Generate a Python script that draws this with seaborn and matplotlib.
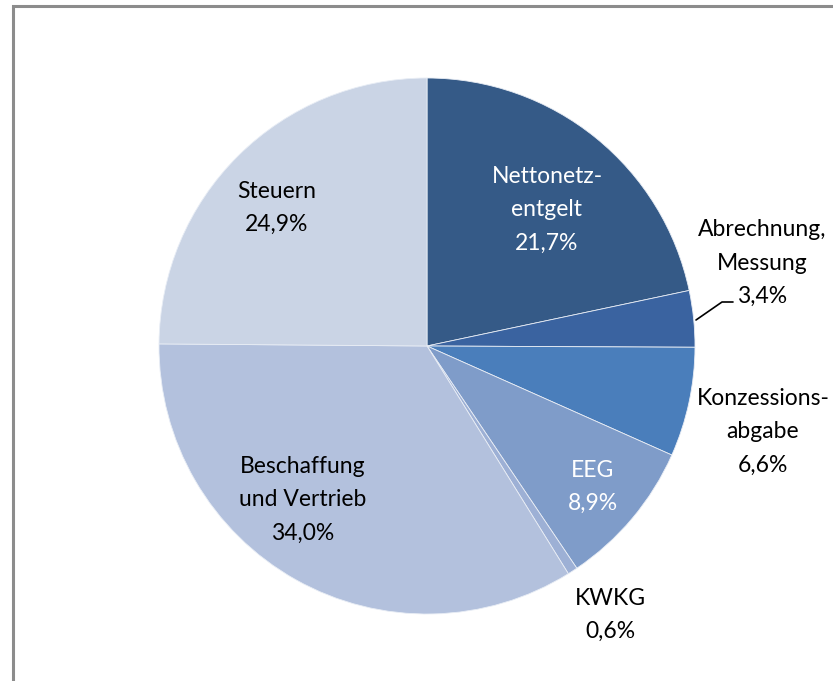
import matplotlib
matplotlib.use("Agg")
import matplotlib.pyplot as plt
import seaborn as sns
from matplotlib.patches import Rectangle

categories = ["Nettonetz-\nentgelt", "Abrechnung,\nMessung", "Konzessions-\nabgabe", "EEG", "KWKG",
              "Beschaffung\nund Vertrieb", "Steuern"]
values = [21.7, 3.4, 6.6, 8.9, 0.6, 34.0, 24.9]
value_labels = ["21,7%", "3,4%", "6,6%", "8,9%", "0,6%", "34,0%", "24,9%"]
colors = ["#355A87", "#3A63A0", "#4A7EBB", "#7F9CC9", "#9DB0D5", "#B3C1DD", "#CAD4E5"]
text_colors = ["white", "black", "black", "white", "black", "black", "black"]
# label anchor positions (pixels from top-left)
label_pos = [(547, 210), (762, 263), (763, 432), (593, 487), (610, 615), (303, 500), (277, 208)]

sns.set_theme(style="white")
plt.rcParams['font.family'] = ['Lato', 'DejaVu Sans']

W, H = 833, 681
fig = plt.figure(figsize=(W / 100, H / 100), dpi=100)
ax = fig.add_axes([0, 0, 1, 1])

# frame
fig.patches.append(Rectangle((12.5 / W, -0.1), 1.2, (H - 6.5) / H + 0.1, transform=fig.transFigure,
                             fill=False, edgecolor="#8c8c8c", linewidth=2.2))

cx, cy, r = 427, H - 346, 268
ax.pie(values, colors=colors, startangle=90, counterclock=False, center=(cx, cy), radius=r,
       wedgeprops=dict(edgecolor="#e8edf5", linewidth=0.6), frame=True)
ax.set_xlim(0, W)
ax.set_ylim(0, H)
ax.set_aspect('equal')
ax.axis('off')

for cat, vl, (x, y), tc in zip(categories, value_labels, label_pos, text_colors):
    ax.text(x, H - y, cat + "\n" + vl, ha='center', va='center', color=tc,
            fontsize=16.5, linespacing=1.72)

# leader line for Abrechnung, Messung
ax.plot([696, 722, 733], [H - 320, H - 302, H - 302], color='black', linewidth=1.2)

fig.savefig("out.png", dpi=100)
